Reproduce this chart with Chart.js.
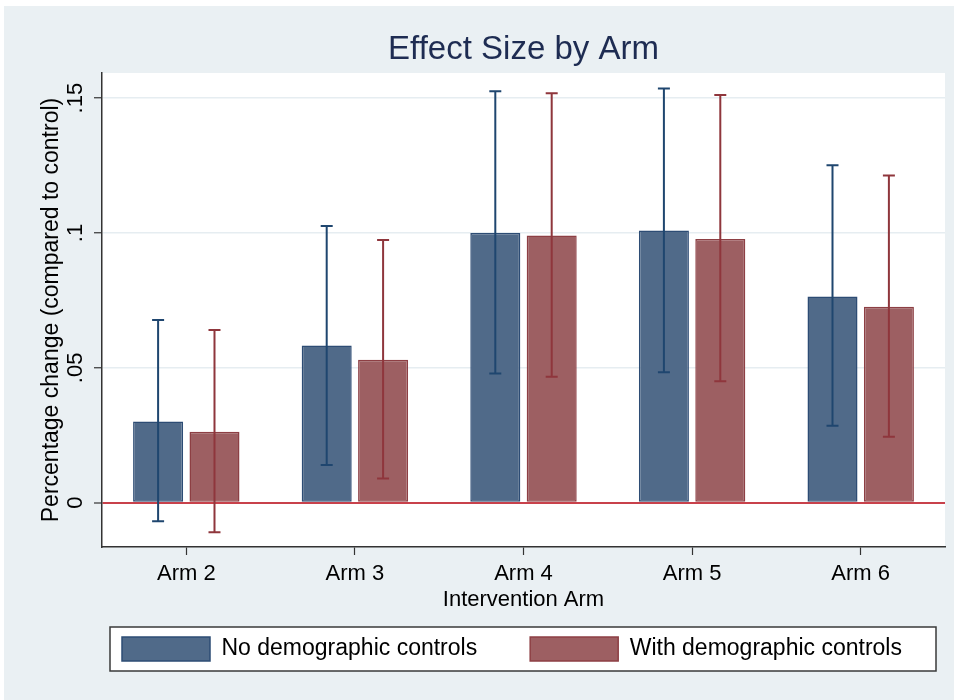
<!DOCTYPE html>
<html>
<head>
<meta charset="utf-8">
<script src="https://cdn.jsdelivr.net/npm/chart.js@4.4.1/dist/chart.umd.min.js"></script>
<style>
  html, body { margin: 0; padding: 0; background: #ffffff; }
  #wrap { position: absolute; left: 4px; top: 6px; width: 950px; height: 694px; }
</style>
</head>
<body>
<div id="wrap"><canvas id="effectChart" width="950" height="694"></canvas></div>
<script>
// categories and series
var arms = ['Arm 2', 'Arm 3', 'Arm 4', 'Arm 5', 'Arm 6'];

var noControls     = [0.0301, 0.0583, 0.1000, 0.1009, 0.0765];
var noControlsLow  = [-0.0069, 0.0140, 0.0479, 0.0484, 0.0285];
var noControlsHigh = [0.0677, 0.1026, 0.1525, 0.1536, 0.1251];

var withControls     = [0.0263, 0.0530, 0.0991, 0.0978, 0.0727];
var withControlsLow  = [-0.0109, 0.0090, 0.0467, 0.0450, 0.0245];
var withControlsHigh = [0.0640, 0.0974, 0.1518, 0.1511, 0.1213];

var yTickValues = [0, 0.05, 0.1, 0.15];
var yTickLabels = ['0', '.05', '.1', '.15'];

var FONT = "'Liberation Sans', Arial, Helvetica, sans-serif";
var NAVY = '#1f466f';
var MAROON = '#8f363c';

// background, white plot region and the framed legend area
var backdrop = {
    id: 'backdrop',
    beforeDraw: function (chart) {
        var ctx = chart.ctx;
        var a = chart.chartArea;
        ctx.save();
        ctx.fillStyle = '#eaf0f3';
        ctx.fillRect(0, 0, chart.width, chart.height);
        ctx.fillStyle = '#ffffff';
        ctx.fillRect(a.left, a.top, a.right - a.left, a.bottom - a.top);
        // legend frame
        ctx.fillRect(106, 621, 826, 44);
        ctx.strokeStyle = '#3a3a3a';
        ctx.lineWidth = 1.5;
        ctx.strokeRect(106, 621, 826, 44);
        ctx.restore();
    }
};

// move the legend row into its frame
var legendPlace = {
    id: 'legendPlace',
    afterLayout: function (chart) {
        var lg = chart.legend;
        var w = lg.width;
        lg.left = 65;
        lg.right = 65 + w;
        lg.top -= 29;
        lg.bottom -= 29;
    }
};

// confidence interval whiskers
var errorBars = {
    id: 'errorBars',
    afterDatasetsDraw: function (chart) {
        var ctx = chart.ctx;
        var y = chart.scales.y;
        var sets = [[noControlsLow, noControlsHigh, NAVY], [withControlsLow, withControlsHigh, MAROON]];
        ctx.save();
        sets.forEach(function (s, i) {
            var meta = chart.getDatasetMeta(i);
            ctx.strokeStyle = s[2];
            ctx.lineWidth = 2;
            meta.data.forEach(function (bar, j) {
                var lo = y.getPixelForValue(s[0][j]);
                var hi = y.getPixelForValue(s[1][j]);
                ctx.beginPath();
                ctx.moveTo(bar.x, lo);
                ctx.lineTo(bar.x, hi);
                ctx.moveTo(bar.x - 6, lo);
                ctx.lineTo(bar.x + 6, lo);
                ctx.moveTo(bar.x - 6, hi);
                ctx.lineTo(bar.x + 6, hi);
                ctx.stroke();
            });
        });
        ctx.restore();
    }
};

var ctx = document.getElementById('effectChart').getContext('2d');
new Chart(ctx, {
    type: 'bar',
    data: {
        labels: arms,
        datasets: [{
            label: 'No demographic controls',
            data: noControls,
            backgroundColor: '#506a89',
            borderColor: '#2d4c74',
            borderWidth: 1.5,
            borderSkipped: false
        }, {
            label: 'With demographic controls',
            data: withControls,
            backgroundColor: '#9d5f62',
            borderColor: '#8d3f44',
            borderWidth: 1.5,
            borderSkipped: false
        }]
    },
    options: {
        responsive: false,
        animation: false,
        categoryPercentage: 0.669,
        barPercentage: 0.887,
        layout: { padding: { left: 0, right: 9, top: 0, bottom: 0 } },
        scales: {
            x: {
                afterFit: function (s) { s.height = 66; },
                offset: true,
                grid: {
                    offset: false,
                    drawOnChartArea: false,
                    drawTicks: true,
                    tickLength: 8,
                    tickColor: '#333333',
                    tickWidth: 1.2
                },
                border: { color: '#333333', width: 1.5 },
                ticks: {
                    color: '#000000',
                    font: { family: FONT, size: 22 },
                    padding: 6,
                    maxRotation: 0
                },
                title: {
                    display: true,
                    text: 'Intervention Arm',
                    color: '#000000',
                    font: { family: FONT, size: 22 },
                    padding: { top: 0, bottom: 0 }
                }
            },
            y: {
                min: -0.0164,
                max: 0.1593,
                afterFit: function (s) { s.width = 98; },
                afterBuildTicks: function (s) {
                    s.ticks = yTickValues.map(function (v) { return { value: v }; });
                },
                grid: {
                    color: function (c) { return c.tick && c.tick.value === 0 ? '#c8414b' : '#e6edf1'; },
                    lineWidth: function (c) { return c.tick && c.tick.value === 0 ? 2 : 1.5; },
                    tickLength: 8,
                    tickColor: '#333333',
                    tickWidth: 1.2
                },
                border: { color: '#333333', width: 1.5 },
                ticks: {
                    color: '#000000',
                    font: { family: FONT, size: 22 },
                    minRotation: 90,
                    maxRotation: 90,
                    crossAlign: 'center',
                    padding: 3,
                    callback: function (v) {
                        var k = yTickValues.indexOf(v);
                        return k >= 0 ? yTickLabels[k] : '';
                    }
                },
                title: {
                    display: true,
                    text: 'Percentage change (compared to control)',
                    color: '#000000',
                    font: { family: FONT, size: 23 },
                    padding: { top: 34, bottom: 0 }
                }
            }
        },
        plugins: {
            title: {
                display: true,
                text: 'Effect Size by Arm',
                fullSize: false,
                color: '#1e2c52',
                font: { family: FONT, size: 33, weight: 'normal' },
                padding: { top: 24, bottom: 3.4 }
            },
            legend: {
                display: true,
                position: 'bottom',
                align: 'start',
                labels: {
                    color: '#000000',
                    font: { family: FONT, size: 23 },
                    boxWidth: 88,
                    boxHeight: 24,
                    padding: 53
                }
            },
            tooltip: { enabled: false }
        }
    },
    plugins: [backdrop, legendPlace, errorBars]
});
</script>
</body>
</html>
